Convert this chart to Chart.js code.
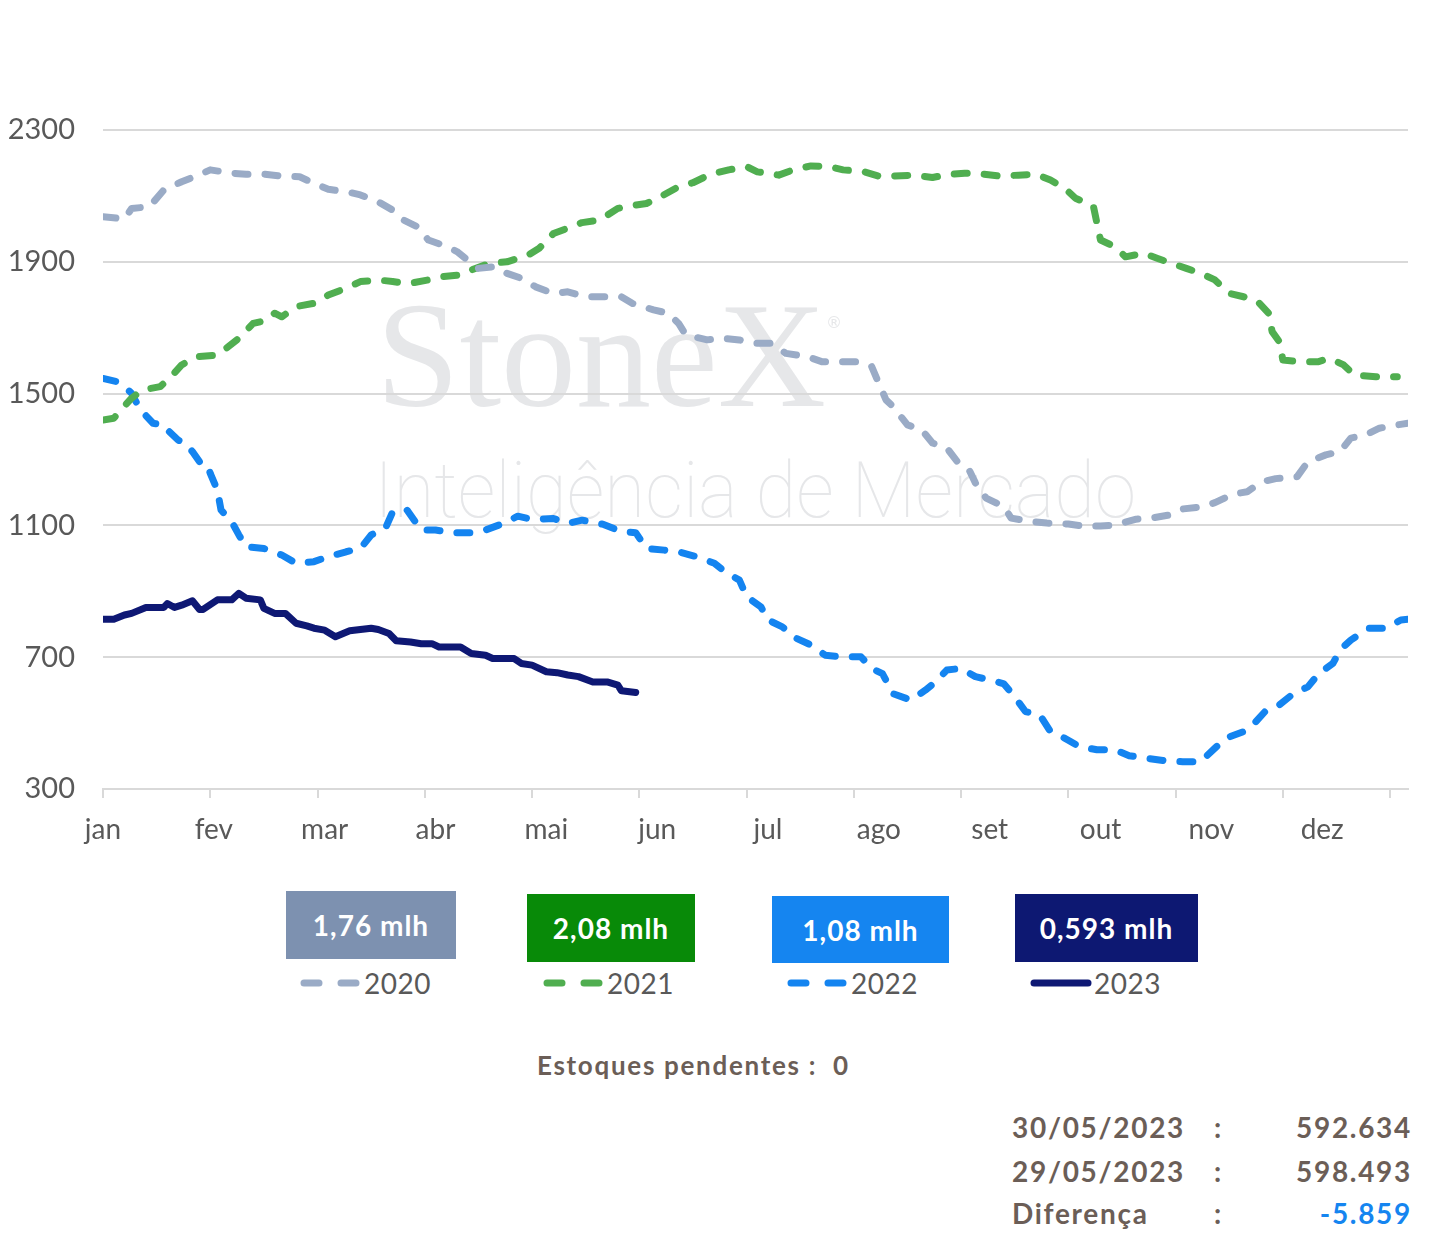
<!DOCTYPE html>
<html lang="pt">
<head>
<meta charset="UTF-8">
<title>Estoques</title>
<script src="https://cdn.jsdelivr.net/npm/chart.js"></script>
<style>
    body { margin: 0; background: #fff; font-family: 'Lato', sans-serif; }
    .page { position: relative; width: 1444px; height: 1240px; }
    .chart-box { position: absolute; left: 0; top: 0; width: 1444px; height: 860px; }
    .vbox { position: absolute; color: #fff; font-weight: bold; font-size: 28px; letter-spacing: 1px;
            display: flex; align-items: center; justify-content: center; }
    .leg { position: absolute; top: 966px; font-size: 28px; color: #595959; height: 34px; letter-spacing: 0.5px;
           display: flex; align-items: center; }
    .ico { display: inline-block; width: 62px; height: 8px; margin-right: 2px; }
    .txt { position: absolute; color: #6b5e57; font-weight: bold; font-size: 28px; letter-spacing: 1.7px; white-space: nowrap; }
</style>
</head>
<body>
<div class="page">
    <div class="chart-box"><canvas id="estoques"></canvas></div>

    <div class="vbox" style="left:286px;top:891px;width:170px;height:68px;background:#7d91b0">1,76 mlh</div>
    <div class="vbox" style="left:527px;top:894px;width:168px;height:68px;background:#088a08">2,08 mlh</div>
    <div class="vbox" style="left:772px;top:896px;width:177px;height:67px;background:#1585f0">1,08 mlh</div>
    <div class="vbox" style="left:1015px;top:894px;width:183px;height:68px;background:#0d1872">0,593 mlh</div>

    <div class="leg" style="left:300px"><canvas class="ico" width="62" height="8" data-c="#9aabc6" data-d="1"></canvas>2020</div>
    <div class="leg" style="left:543px"><canvas class="ico" width="62" height="8" data-c="#50ae50" data-d="1"></canvas>2021</div>
    <div class="leg" style="left:787px"><canvas class="ico" width="62" height="8" data-c="#1484f0" data-d="1"></canvas>2022</div>
    <div class="leg" style="left:1030px"><canvas class="ico" width="62" height="8" data-c="#0e1874" data-d="0"></canvas>2023</div>

    <div class="txt" style="left:537px;top:1049px;font-size:26px">Estoques pendentes :&nbsp; 0</div>

    <div class="txt" style="left:1012px;top:1110px">30/05/2023</div>
    <div class="txt" style="left:1214px;top:1110px">:</div>
    <div class="txt" style="right:32px;top:1110px">592.634</div>

    <div class="txt" style="left:1012px;top:1154px">29/05/2023</div>
    <div class="txt" style="left:1214px;top:1154px">:</div>
    <div class="txt" style="right:32px;top:1154px">598.493</div>

    <div class="txt" style="left:1012px;top:1196px">Diferença</div>
    <div class="txt" style="left:1214px;top:1196px">:</div>
    <div class="txt" style="right:32px;top:1196px;color:#1585f0">-5.859</div>
</div>

<script>
    // eixo x em dias desde 1º de janeiro
    const monthNames = ['jan', 'fev', 'mar', 'abr', 'mai', 'jun', 'jul', 'ago', 'set', 'out', 'nov', 'dez'];
    const yTicks = [300, 700, 1100, 1500, 1900, 2300];

    // estoques (mil toneladas)
    const days2020 = [0, 6, 8, 13, 17, 22, 26, 30, 36, 40, 45, 50, 55, 58, 63, 68, 72, 77, 81, 84, 88, 91, 95, 99, 102, 105, 109, 113, 117, 121, 126, 130, 135, 145, 148, 154, 158, 161, 163, 169, 173, 178, 182, 187, 191, 197, 201, 211, 215, 217, 219, 221, 225, 229, 232, 236, 239, 242, 244, 247, 252, 254, 260, 264, 270, 274, 279, 283, 289, 293, 298, 302, 307, 311, 316, 320, 324, 328, 334, 337, 342, 346, 349, 353, 357, 362, 365];
    const stock2020 = [2037, 2030, 2062, 2067, 2118, 2143, 2160, 2179, 2169, 2166, 2166, 2160, 2158, 2143, 2120, 2113, 2103, 2082, 2057, 2027, 2006, 1966, 1951, 1931, 1905, 1880, 1885, 1865, 1850, 1824, 1804, 1809, 1794, 1794, 1774, 1754, 1744, 1713, 1678, 1663, 1668, 1663, 1653, 1653, 1622, 1612, 1597, 1597, 1582, 1531, 1481, 1460, 1405, 1390, 1350, 1335, 1293, 1274, 1229, 1183, 1157, 1122, 1111, 1107, 1104, 1098, 1098, 1101, 1119, 1122, 1131, 1150, 1156, 1169, 1195, 1202, 1232, 1242, 1248, 1293, 1314, 1324, 1365, 1374, 1395, 1405, 1410];

    const days2021 = [0, 3, 5, 8, 11, 16, 19, 22, 26, 32, 35, 38, 42, 46, 48, 50, 54, 59, 63, 68, 72, 77, 81, 84, 87, 91, 95, 100, 103, 108, 113, 119, 122, 126, 130, 134, 139, 144, 147, 152, 156, 161, 165, 170, 175, 180, 183, 189, 193, 198, 203, 207, 213, 217, 220, 227, 232, 237, 241, 246, 251, 256, 261, 265, 269, 272, 277, 278, 279, 283, 286, 291, 295, 299, 303, 307, 311, 315, 319, 323, 326, 327, 329, 330, 335, 340, 343, 347, 350, 356, 362];
    const stock2021 = [1420, 1425, 1450, 1486, 1511, 1521, 1551, 1587, 1612, 1617, 1642, 1668, 1713, 1723, 1744, 1733, 1764, 1774, 1799, 1820, 1840, 1845, 1840, 1835, 1837, 1845, 1855, 1860, 1875, 1895, 1900, 1921, 1941, 1986, 2002, 2019, 2027, 2062, 2069, 2077, 2098, 2128, 2140, 2166, 2179, 2189, 2173, 2163, 2179, 2191, 2189, 2179, 2173, 2160, 2160, 2163, 2156, 2166, 2169, 2166, 2160, 2163, 2166, 2148, 2123, 2093, 2069, 2017, 1966, 1946, 1915, 1926, 1910, 1895, 1880, 1865, 1845, 1804, 1794, 1779, 1744, 1688, 1658, 1602, 1597, 1597, 1607, 1587, 1556, 1551, 1551];

    const days2022 = [0, 4, 6, 8, 10, 11, 14, 17, 18, 21, 23, 25, 27, 29, 30, 32, 33, 36, 38, 40, 45, 50, 54, 59, 63, 68, 72, 75, 79, 81, 85, 89, 93, 98, 103, 107, 112, 116, 120, 126, 130, 134, 140, 145, 149, 152, 157, 161, 166, 171, 174, 178, 180, 184, 186, 190, 194, 198, 202, 207, 212, 215, 218, 221, 226, 230, 233, 236, 240, 244, 248, 252, 255, 258, 262, 265, 269, 273, 278, 283, 287, 292, 297, 302, 307, 311, 314, 319, 322, 325, 329, 333, 337, 340, 344, 346, 349, 354, 359, 363, 365];
    const stock2022 = [1546, 1536, 1521, 1501, 1460, 1445, 1410, 1405, 1390, 1359, 1349, 1324, 1293, 1288, 1258, 1207, 1147, 1111, 1071, 1035, 1030, 1010, 985, 990, 1005, 1020, 1030, 1071, 1091, 1141, 1147, 1086, 1086, 1078, 1078, 1086, 1106, 1128, 1118, 1121, 1106, 1116, 1103, 1081, 1078, 1030, 1025, 1020, 1005, 985, 959, 934, 884, 853, 813, 792, 757, 737, 706, 701, 701, 666, 650, 589, 570, 600, 626, 661, 666, 641, 631, 619, 580, 535, 525, 474, 454, 429, 419, 419, 401, 393, 386, 383, 383, 424, 454, 474, 499, 535, 555, 590, 610, 650, 681, 722, 752, 788, 788, 813, 815];

    const days2023 = [0, 3, 6, 8, 12, 17, 18, 20, 22, 25, 27, 28, 32, 36, 38, 40, 44, 45, 48, 51, 54, 57, 59, 62, 65, 69, 72, 75, 77, 80, 82, 86, 89, 92, 94, 100, 103, 107, 109, 115, 117, 120, 124, 127, 130, 133, 137, 141, 144, 145, 149];
    const stock2023 = [815, 815, 828, 833, 851, 851, 863, 851, 858, 871, 845, 845, 874, 874, 894, 879, 874, 848, 833, 833, 803, 795, 788, 782, 762, 780, 784, 788, 784, 772, 750, 746, 741, 741, 731, 731, 711, 706, 696, 696, 681, 676, 656, 653, 646, 641, 625, 625, 615, 598, 593];

    const pts = (d, v) => d.map((x, i) => ({ x: x, y: v[i] }));

    // marcas do eixo a cada 30 dias, rótulos a cada 31
    const markDays = [];
    for (let d = 0; d <= 360; d += 30) markDays.push(d);
    const labelDays = monthNames.map((m, i) => i * 31);
    const allTicks = Array.from(new Set(markDays.concat(labelDays))).sort((a, b) => a - b);

    const marca = {
        id: 'marca',
        beforeDraw(chart) {
            const c = chart.ctx;
            c.save();
            c.fillStyle = '#e6e7e9';
            c.textBaseline = 'alphabetic';
            c.font = '150px "Liberation Serif", serif';
            c.fillText('StoneX', 376, 406);
            c.font = '16px "DejaVu Sans", sans-serif';
            c.fillText('®', 826, 328);
            c.font = '100 78px "Roboto", sans-serif';
            const w = c.measureText('Inteligência de Mercado').width;
            c.save();
            c.translate(374, 517);
            c.scale(762 / w, 1);
            c.fillText('Inteligência de Mercado', 0, 0);
            c.restore();
            c.restore();
        }
    };

    const dashed = (label, data, color) => ({
        label: label, data: data, borderColor: color, borderWidth: 7,
        borderDash: [13, 17], borderCapStyle: 'round', borderJoinStyle: 'round',
        pointRadius: 0, tension: 0, fill: false
    });

    new Chart(document.getElementById('estoques'), {
        type: 'line',
        data: {
            datasets: [
                dashed('2020', pts(days2020, stock2020), '#9aabc6'),
                dashed('2021', pts(days2021, stock2021), '#50ae50'),
                dashed('2022', pts(days2022, stock2022), '#1484f0'),
                {
                    label: '2023', data: pts(days2023, stock2023), borderColor: '#0e1874',
                    borderWidth: 7, borderCapStyle: 'round', borderJoinStyle: 'round',
                    pointRadius: 0, tension: 0, fill: false
                }
            ]
        },
        options: {
            responsive: true,
            maintainAspectRatio: false,
            animation: false,
            layout: { padding: { top: 130, right: 36, left: 0, bottom: 0 } },
            plugins: { legend: { display: false }, tooltip: { enabled: false } },
            scales: {
                x: {
                    type: 'linear', min: 0, max: 365,
                    afterBuildTicks: s => { s.ticks = allTicks.map(v => ({ value: v })); },
                    afterFit: s => { s.height = 71; },
                    border: { color: '#d9d9d9', width: 2 },
                    grid: {
                        drawOnChartArea: false, drawTicks: true, tickLength: 9, lineWidth: 2,
                        tickColor: ctx => (ctx.tick && ctx.tick.value % 30 === 0) ? '#d9d9d9' : 'rgba(0,0,0,0)'
                    },
                    ticks: {
                        autoSkip: false, maxRotation: 0, padding: 15, color: '#595959',
                        font: { family: 'Lato', size: 28 },
                        callback: v => {
                            const i = labelDays.indexOf(v);
                            return i >= 0 ? monthNames[i] : '';
                        }
                    }
                },
                y: {
                    min: 300, max: 2300,
                    afterBuildTicks: s => { s.ticks = yTicks.map(v => ({ value: v })); },
                    afterFit: s => { s.width = 103; },
                    border: { display: false },
                    grid: { color: '#d9d9d9', lineWidth: 2, drawTicks: false },
                    ticks: {
                        padding: 28, color: '#595959', font: { family: 'Lato', size: 29 },
                        callback: v => String(v)
                    }
                }
            }
        },
        plugins: [marca]
    });

    // ícones da legenda
    document.querySelectorAll('.ico').forEach(cv => {
        const c = cv.getContext('2d');
        c.strokeStyle = cv.dataset.c;
        c.lineWidth = 7;
        c.lineCap = 'round';
        if (cv.dataset.d === '1') c.setLineDash([15, 22]);
        c.beginPath();
        c.moveTo(4, 4);
        c.lineTo(58, 4);
        c.stroke();
    });
</script>
</body>
</html>
